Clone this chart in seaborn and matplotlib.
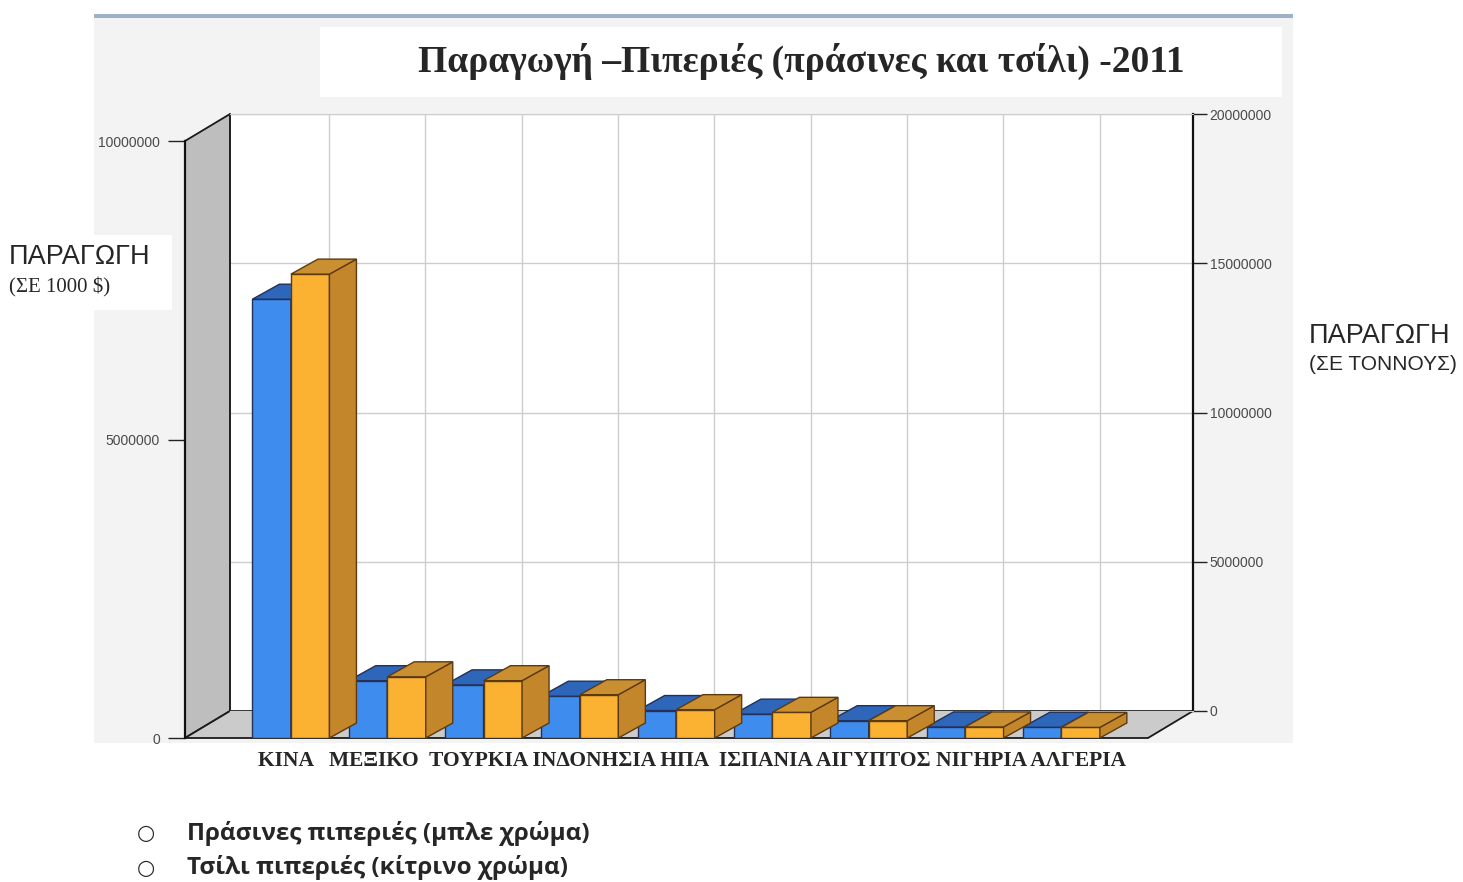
import numpy as np
import pandas as pd
import seaborn as sns
import matplotlib.pyplot as plt
from matplotlib.patches import Polygon, Rectangle
from matplotlib.transforms import IdentityTransform

# Δεδομένα (εκτίμηση από το γράφημα)
countries = ["ΚΙΝΑ", "ΜΕΞΙΚΟ", "ΤΟΥΡΚΙΑ", "ΙΝΔΟΝΗΣΙΑ", "ΗΠΑ", "ΙΣΠΑΝΙΑ", "ΑΙΓΥΠΤΟΣ", "ΝΙΓΗΡΙΑ", "ΑΛΓΕΡΙΑ"]
value_1000usd = [7350000, 960000, 890000, 700000, 460000, 400000, 290000, 185000, 180000]        # αριστερός άξονας
production_tons = [15540000, 2050000, 1920000, 1450000, 950000, 860000, 580000, 370000, 355000]   # δεξιός άξονας
series_names = ["Πράσινες πιπεριές", "Τσίλι πιπεριές"]
left_ticks = [0, 5000000, 10000000]
right_ticks = [0, 5000000, 10000000, 15000000, 20000000]
label_gaps = ["   ", "  ", " ", " ", "  ", " ", " ", " "]

title = "Παραγωγή –Πιπεριές (πράσινες και τσίλι) -2011"
legend_lines = ["Πράσινες πιπεριές (μπλε χρώμα)", "Τσίλι πιπεριές (κίτρινο χρώμα)"]

df = pd.DataFrame({
    "country": countries * 2,
    "series": [series_names[0]] * len(countries) + [series_names[1]] * len(countries),
    "value": value_1000usd + production_tons,
})

sns.set_style("white")
plt.rcParams["font.family"] = ["Liberation Sans", "DejaVu Sans"]

W, H = 1463, 882
fig = plt.figure(figsize=(W / 100, H / 100), dpi=100)


def box(l, t, r, b):
    return [l / W, 1 - b / H, (r - l) / W, (b - t) / H]


def fig_rect(l, t, r, b, color, z):
    fig.add_artist(Rectangle((l / W, 1 - b / H), (r - l) / W, (b - t) / H,
                             transform=fig.transFigure, facecolor=color,
                             edgecolor="none", zorder=z))


# fondo de la captura
fig_rect(94, 14, 1293, 743, "#F3F3F3", -10)
fig_rect(94, 14, 1293, 18, "#9FB1C9", -9)
fig_rect(320, 27, 1282, 97, "white", -8)
fig_rect(0, 235, 172, 310, "white", -8)

xlim = (-1.1, 8.9)
blue, blue_top, blue_edge = "#3E8CEE", "#2E66BA", "#22305A"
orange, orange_top, orange_side, orange_edge = "#FBB233", "#C98F30", "#C4862A", "#5B3A12"

# pared del fondo con el eje derecho
axb = fig.add_axes(box(230, 114, 1193, 711))
axb.set_facecolor("white")
axb.set_xlim(xlim)
axb.set_ylim(0, 20000000)
axb.set_xticks(np.arange(len(countries)) - 0.07)
axb.set_xticklabels([])
axb.set_yticks(right_ticks)
axb.set_yticklabels([str(t) for t in right_ticks])
axb.yaxis.tick_right()
axb.grid(True, color="#CDCDCD", lw=1)
axb.tick_params(axis="x", length=0)
axb.tick_params(axis="y", direction="out", length=10, width=1, color="#222",
                labelsize=10, labelcolor="#4A4A4A", pad=2, right=True, left=False)
for s in ["top", "bottom"]:
    axb.spines[s].set_color("#CDCDCD")
axb.spines["right"].set_color("#111")
axb.spines["right"].set_linewidth(1.6)
axb.spines["left"].set_color("#222")
axb.spines["left"].set_linewidth(1.2)

# plano frontal con el eje izquierdo (azul)
axf = fig.add_axes(box(185, 141, 1148, 738))
axf.set_zorder(1)
axf.patch.set_alpha(0)
sns.barplot(data=df[df["series"] == series_names[0]], x="country", y="value",
            hue="series", hue_order=series_names, order=countries, dodge=True,
            palette=[blue, orange], saturation=1, width=0.8, edgecolor=blue_edge,
            linewidth=1, legend=False, ax=axf)
axf.set_ylim(0, 10000000)
axf.set_yticks(left_ticks)
axf.set_yticklabels([str(t) for t in left_ticks])
axf.set_xlabel("")
axf.set_ylabel("")
axf.set_xticks([])
for s in ["top", "right", "bottom"]:
    axf.spines[s].set_visible(False)
axf.spines["left"].set_color("#111")
axf.spines["left"].set_linewidth(1.6)
axf.tick_params(axis="y", direction="out", length=12, width=1, color="#222",
                labelsize=10, labelcolor="#4A4A4A", pad=6, left=True)

# eje gemelo para las toneladas (naranja)
ax2 = axf.twinx()
sns.barplot(data=df[df["series"] == series_names[1]], x="country", y="value",
            hue="series", hue_order=series_names, order=countries, dodge=True,
            palette=[blue, orange], saturation=1, width=0.8, edgecolor=orange_edge,
            linewidth=1, legend=False, ax=ax2)
ax2.set_ylim(0, 20000000)
ax2.set_xlim(xlim)
axf.set_xlim(xlim)
ax2.set_yticks([])
ax2.set_xticks([])
ax2.set_xlabel("")
ax2.set_ylabel("")
for s in ax2.spines.values():
    s.set_visible(False)

# paredes 3D (izquierda y suelo)
f = axf.transAxes.transform
b = axb.transAxes.transform
left_wall = [f((0, 0)), f((0, 1)), b((0, 1)), b((0, 0))]
floor = [f((0, 0)), b((0, 0)), b((1, 0)), f((1, 0))]
axb.add_patch(Polygon(left_wall, closed=True, transform=IdentityTransform(),
                      facecolor="#BEBEBE", edgecolor="#1A1A1A", lw=1.3, clip_on=False))
axb.add_patch(Polygon(floor, closed=True, transform=IdentityTransform(),
                      facecolor="#CBCBCB", edgecolor="#1A1A1A", lw=1.3, clip_on=False))

# profundidad de las barras
dx, dy = 27, 15


def add_depth(ax, top_color, side_color, edge):
    for p in list(ax.patches):
        h = p.get_height()
        if not np.isfinite(h) or h <= 0:
            continue
        x0, y0, w = p.get_x(), p.get_y(), p.get_width()
        (px0, py0), (px1, py1) = ax.transData.transform([(x0, y0), (x0 + w, y0 + h)])
        top = [(px0, py1), (px0 + dx, py1 + dy), (px1 + dx, py1 + dy), (px1, py1)]
        side = [(px1, py0), (px1 + dx, py0 + dy), (px1 + dx, py1 + dy), (px1, py1)]
        for poly, c in [(side, side_color), (top, top_color)]:
            ax.add_patch(Polygon(poly, closed=True, transform=IdentityTransform(),
                                 facecolor=c, edgecolor=edge, lw=1, clip_on=False))


add_depth(axf, blue_top, blue_top, blue_edge)
add_depth(ax2, orange_top, orange_side, orange_edge)

# textos
fig.text(801 / W, 1 - 61 / H, title, ha="center", va="center",
         family=["Liberation Serif", "DejaVu Serif"], weight="bold", fontsize=27)

xlabel_line = countries[0]
for gap, name in zip(label_gaps, countries[1:]):
    xlabel_line += gap + name
fig.text(692 / W, 1 - 761 / H, xlabel_line, ha="center", va="center",
         family=["Liberation Serif", "DejaVu Serif"], weight="bold", fontsize=15.5)

fig.text(9 / W, 1 - 257 / H, "ΠΑΡΑΓΩΓΗ", ha="left", va="center", fontsize=19.5)
fig.text(9 / W, 1 - 287 / H, "(ΣΕ 1000 $)", ha="left", va="center",
         family=["Liberation Serif", "DejaVu Serif"], fontsize=15)
fig.text(1309 / W, 1 - 336 / H, "ΠΑΡΑΓΩΓΗ", ha="left", va="center", fontsize=19.5)
fig.text(1309 / W, 1 - 364 / H, "(ΣΕ ΤΟΝΝΟΥΣ)", ha="left", va="center", fontsize=15)

for i, line in enumerate(legend_lines):
    y = 1 - (833 + 35 * i) / H
    fig.text(146 / W, y, "○", ha="center", va="center", fontsize=15,
             family=["DejaVu Sans"])
    fig.text(187 / W, y, line, ha="left", va="center", weight="bold",
             fontsize=17.5, family=["Open Sans", "DejaVu Sans"])

fig.savefig("out.png", dpi=100)
